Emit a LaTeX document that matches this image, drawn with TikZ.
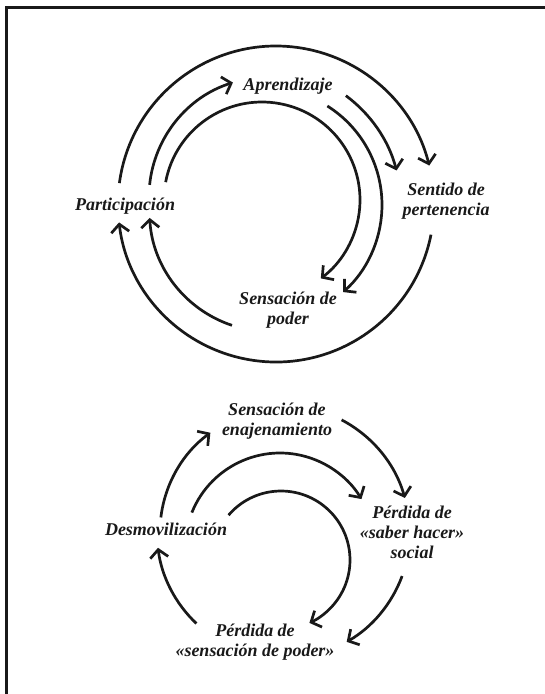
\documentclass[tikz,border=0pt]{standalone}
\usepackage{fontspec}
\setmainfont{Liberation Serif}
\usetikzlibrary{arrows.meta,calc}
\begin{document}
\begin{tikzpicture}[x=1pt,y=1pt,
  lbl/.style={font=\fontsize{18}{20}\selectfont\bfseries\itshape, align=center, inner sep=0pt, text=black!90},
  arr/.style={line width=2.7pt, draw=black!90, -{Straight Barb[length=8pt,width=18pt]}},
  framel/.style={line width=3pt, draw=black!90}]
\useasboundingbox (0,0) rectangle (544,-694);
\coordinate (f1) at (6,-705);
\coordinate (f2) at (6,-7);
\coordinate (f3) at (555,-7);
\draw[framel] (f1) -- (f2) -- (f3);

% ---------- top cycle ----------
\node[lbl, anchor=base] (part) at (125,-210) {Participación};
\node[lbl, anchor=base] (apr) at (288,-90) {Aprendizaje};
\node[lbl] (sent) at (446,-201) {Sentido de\\pertenencia};
\node[lbl] (sens) at (288,-310) {Sensación de\\poder};

\coordinate (O1) at (276,-204);
\coordinate (O2) at (265,-205);
\coordinate (Ob1) at (269,-197);
\coordinate (Ob4) at (270,-211);
\coordinate (Oc1) at (262,-200);

\path (O1) ++(172.4:158) coordinate (a1s);
\path (O1) ++(-11.2:158) coordinate (a2s);
\path (Ob1) ++(174.2:120) coordinate (b1s);
\path (O2) ++(53.5:136) coordinate (b2s);
\path (O2) ++(57.8:117) coordinate (b3s);
\path (Ob4) ++(-108.4:120.5) coordinate (b4s);
\path (Oc1) ++(169.5:98) coordinate (c1s);

\draw[arr] (a1s) arc[start angle=172.4, end angle=14.1, radius=158];
\draw[arr] (a2s) arc[start angle=-11.2, end angle=-173.3, radius=158];
\draw[arr] (b1s) arc[start angle=174.2, end angle=107.5, radius=120];
\draw[arr] (b2s) arc[start angle=53.5, end angle=14.7, radius=136];
\draw[arr] (b3s) arc[start angle=57.8, end angle=-48.1, radius=117];
\draw[arr] (b4s) arc[start angle=-108.4, end angle=-176.7, radius=120.5];
\draw[arr] (c1s) arc[start angle=169.5, end angle=-53.1, radius=98];

% ---------- bottom cycle ----------
\node[lbl] (enaj) at (277,-421.5) {Sensación de\\enajenamiento};
\node[lbl, anchor=base] (desm) at (166,-535) {Desmovilización};
\node[lbl] (saber) at (412,-532) {Pérdida de\\«saber hacer»\\social};
\node[lbl] (perd) at (255,-642) {Pérdida de\\«sensación de poder»};

\coordinate (O3) at (283,-532);
\coordinate (Oe1) at (280,-548);
\coordinate (Of1) at (281,-560);

\path (O3) ++(173.2:123) coordinate (d1s);
\path (O3) ++(62.4:126.5) coordinate (d2s);
\path (O3) ++(-20.3:127) coordinate (d3s);
\path (O3) ++(-133.4:126) coordinate (d4s);
\path (Oe1) ++(158.1:95) coordinate (e1s);
\path (Of1) ++(139.5:69) coordinate (f1s);

\draw[arr] (d1s) arc[start angle=173.2, end angle=126.2, radius=123];
\draw[arr] (d2s) arc[start angle=62.4, end angle=15.6, radius=126.5];
\draw[arr] (d3s) arc[start angle=-20.3, end angle=-59.9, radius=127];
\draw[arr] (d4s) arc[start angle=-133.4, end angle=-172.8, radius=126];
\draw[arr] (e1s) arc[start angle=158.1, end angle=31, radius=95];
\draw[arr] (f1s) arc[start angle=139.5, end angle=-65.7, radius=69];
\end{tikzpicture}
\end{document}
